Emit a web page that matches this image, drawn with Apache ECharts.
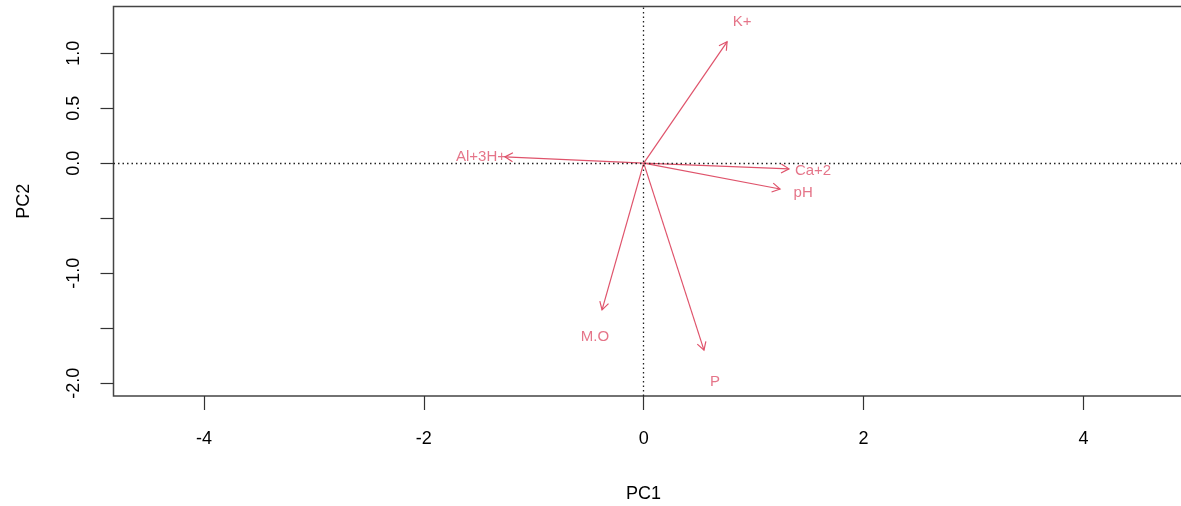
<!DOCTYPE html>
<html>
<head>
<meta charset="utf-8">
<title>PCA biplot – PC1 vs PC2</title>
<script src="https://cdn.jsdelivr.net/npm/echarts@6/dist/echarts.min.js"></script>
<style>
  html, body { margin: 0; padding: 0; background: #fff; }
  #chart { width: 1181px; height: 506px; }
</style>
</head>
<body>
<div id="chart"></div>
<script>
// Soil variables and their loading vectors on the first two components
const variables = ['K+', 'Al+3H+', 'Ca+2', 'pH', 'M.O', 'P'];
const arrowPC1 = [0.758, -1.262, 1.321, 1.240, -0.379, 0.548];
const arrowPC2 = [1.103, 0.057, -0.052, -0.235, -1.334, -1.700];
// Where each variable name is written
const labelPC1 = [0.894, -1.480, 1.540, 1.450, -0.443, 0.648];
const labelPC2 = [1.285, 0.057, -0.070, -0.270, -1.579, -1.988];

// Axis ticks and labels
const xTicks = [-4, -2, 0, 2, 4];
const yTicks = [-2, -1.5, -1, -0.5, 0, 0.5, 1];
const yLabels = [-2, -1, 0, 0.5, 1];

const VEC_COLOR = '#DF536B';
const INK = '#000';
const FONT = '"Liberation Sans", Arial, Helvetica, sans-serif';

const arrows = variables.map((v, i) => [arrowPC1[i], arrowPC2[i], v]);
const labels = variables.map((v, i) => [labelPC1[i], labelPC2[i], v]);

function renderArrow(params, api) {
  const p0 = api.coord([0, 0]);
  const p1 = api.coord([api.value(0), api.value(1)]);
  const ang = Math.atan2(p1[1] - p0[1], p1[0] - p0[0]);
  const len = 9, spread = Math.PI / 6;
  const h1 = [p1[0] - len * Math.cos(ang - spread), p1[1] - len * Math.sin(ang - spread)];
  const h2 = [p1[0] - len * Math.cos(ang + spread), p1[1] - len * Math.sin(ang + spread)];
  const style = { stroke: VEC_COLOR, lineWidth: 1.2, fill: null };
  return {
    type: 'group',
    children: [
      { type: 'line', shape: { x1: p0[0], y1: p0[1], x2: p1[0], y2: p1[1] }, style: style },
      { type: 'polyline', shape: { points: [h1, p1, h2] }, style: style }
    ]
  };
}

const chart = echarts.init(document.getElementById('chart'), null, { renderer: 'canvas' });
chart.setOption({
  animation: false,
  backgroundColor: '#fff',
  grid: {
    // the plot box runs past the right edge of the page
    left: 113.5, top: 6.5, width: 1080, height: 389.5,
    outerBoundsMode: 'none',
    containLabel: false,
    show: true, borderColor: '#444', borderWidth: 1.5, backgroundColor: 'transparent'
  },
  xAxis: {
    type: 'value',
    min: -4.822, max: 5,
    name: 'PC1',
    nameLocation: 'middle',
    nameGap: 89,
    nameTextStyle: { color: INK, fontSize: 18, fontFamily: FONT, padding: [0, 20, 0, 0] },
    axisLine: { show: false, onZero: false },
    splitLine: { show: false },
    axisTick: { show: true, length: 14, customValues: xTicks, lineStyle: { color: '#333', width: 1.2 } },
    axisLabel: {
      show: true, customValues: xTicks, margin: 34,
      color: INK, fontSize: 18, fontFamily: FONT,
      formatter: v => String(v)
    }
  },
  yAxis: {
    type: 'value',
    min: -2.117, max: 1.424,
    name: 'PC2',
    nameLocation: 'middle',
    nameGap: 80,
    nameTextStyle: { color: INK, fontSize: 18, fontFamily: FONT },
    axisLine: { show: false, onZero: false },
    splitLine: { show: false },
    axisTick: { show: true, length: 13, customValues: yTicks, lineStyle: { color: '#333', width: 1.2 } },
    axisLabel: {
      show: true, customValues: yLabels, margin: 30, rotate: 90,
      color: INK, fontSize: 18, fontFamily: FONT,
      formatter: v => v.toFixed(1)
    }
  },
  series: [
    {
      // dotted reference lines through the origin
      type: 'line',
      data: [],
      silent: true,
      markLine: {
        silent: true,
        symbol: ['none', 'none'],
        label: { show: false },
        lineStyle: { color: '#222', width: 1.3, type: [1.5, 3] },
        data: [{ xAxis: 0 }, { yAxis: 0 }]
      }
    },
    {
      type: 'custom',
      renderItem: renderArrow,
      data: arrows,
      silent: true,
      z: 3
    },
    {
      type: 'scatter',
      data: labels,
      symbolSize: 0,
      silent: true,
      z: 4,
      label: {
        show: true,
        position: 'inside',
        formatter: p => p.value[2],
        color: VEC_COLOR,
        fontSize: 15,
        fontFamily: FONT
      }
    }
  ]
});
</script>
</body>
</html>
